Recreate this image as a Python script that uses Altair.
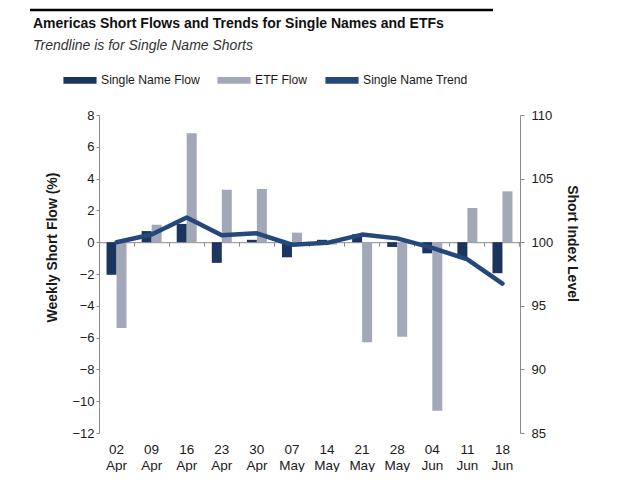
import altair as alt
import pandas as pd

dates = ["02 Apr", "09 Apr", "16 Apr", "23 Apr", "30 Apr", "07 May",
         "14 May", "21 May", "28 May", "04 Jun", "11 Jun", "18 Jun"]
single_name_flow = [-2.05, 0.7, 1.15, -1.3, 0.15, -0.95, 0.15, 0.5, -0.3, -0.7, -0.95, -1.95]
etf_flow = [-5.4, 1.1, 6.85, 3.3, 3.35, 0.6, -0.15, -6.3, -5.95, -10.6, 2.15, 3.2]
single_name_trend = [100.0, 100.6, 101.95, 100.55, 100.7, 99.8, 99.95, 100.6, 100.3, 99.55, 98.65, 96.75]

series_names = ["Single Name Flow", "ETF Flow", "Single Name Trend"]
series_colors = ["#1c355e", "#a3a8b8", "#24487a"]
left_ticks = [-12, -10, -8, -6, -4, -2, 0, 2, 4, 6, 8]
right_ticks = [85, 90, 95, 100, 105, 110]

bars_df = pd.DataFrame({
    "date": dates * 2,
    "series": [series_names[0]] * len(dates) + [series_names[1]] * len(dates),
    "value": single_name_flow + etf_flow,
})
trend_df = pd.DataFrame({"date": dates, "trend": single_name_trend,
                         "series": [series_names[2]] * len(dates)})

W, H = 421, 318
FONT = "Liberation Sans"
AXIS_GRAY = "#8a8a8a"
TEXT = "#1a1a1a"

color = alt.Color(
    "series:N",
    scale=alt.Scale(domain=series_names, range=series_colors),
    legend=alt.Legend(
        title=None, orient="none", legendX=-36, legendY=-52,
        direction="horizontal", symbolType="M-1,-0.2H1V0.2H-1Z",
        symbolSize=1100, symbolStrokeWidth=0, symbolOpacity=1,
        labelFont=FONT, labelFontSize=12.2, labelColor=TEXT,
        labelOffset=4, columnPadding=17, padding=0,
    ),
)

xscale = alt.Scale(paddingInner=0.43, paddingOuter=0.215)

bar_layer = alt.Chart(bars_df).mark_bar().encode(
    x=alt.X("date:N", sort=dates, scale=xscale,
            axis=alt.Axis(orient="bottom", title=None, domain=False, ticks=False,
                          labelAngle=0, labelExpr="split(datum.label, ' ')",
                          labelFont=FONT, labelFontSize=13.5, labelColor=TEXT,
                          labelPadding=9, labelLineHeight=16)),
    xOffset=alt.XOffset("series:N", sort=series_names[:2]),
    y=alt.Y("value:Q", scale=alt.Scale(domain=[-12, 8], nice=False, zero=False),
            axis=alt.Axis(orient="left", values=left_ticks, grid=False,
                          title="Weekly Short Flow (%)", titleFont=FONT,
                          titleFontSize=14, titleFontWeight="bold", titleColor=TEXT,
                          titleX=-40, titleY=132,
                          labelFont=FONT, labelFontSize=13, labelColor=TEXT,
                          labelPadding=2, tickSize=3, tickColor=AXIS_GRAY,
                          domainColor=AXIS_GRAY)),
    color=color,
)

line_layer = alt.Chart(trend_df).mark_line(
    strokeWidth=4.5, strokeCap="round", strokeJoin="round"
).encode(
    x=alt.X("date:N", sort=dates, scale=xscale,
            axis=alt.Axis(orient="bottom", title=None, labels=False, ticks=True,
                          tickSize=4, tickColor=AXIS_GRAY, domain=True,
                          domainColor=AXIS_GRAY, bandPosition=1.377,
                          offset=-(H * 12 / 20), grid=False)),
    y=alt.Y("trend:Q", scale=alt.Scale(domain=[85, 110], nice=False, zero=False),
            axis=alt.Axis(orient="right", values=right_ticks, grid=False,
                          title="Short Index Level", titleFont=FONT,
                          titleFontSize=14, titleFontWeight="bold", titleColor=TEXT,
                          titlePadding=12, titleY=128,
                          labelFont=FONT, labelFontSize=13, labelColor=TEXT,
                          labelPadding=7, tickSize=4, tickColor=AXIS_GRAY,
                          domainColor=AXIS_GRAY)),
    color=color,
)

header_rule = alt.Chart(pd.DataFrame({"k": [0]})).mark_rule(
    color="#000000", strokeWidth=2.5, clip=False
).encode(x=alt.value(-69), x2=alt.value(394), y=alt.value(-105))

chart = alt.layer(bar_layer, line_layer, header_rule).resolve_scale(
    y="independent"
).resolve_axis(x="independent", y="independent").properties(
    width=W, height=H,
    autosize=alt.AutoSizeParams(type="none"),
    padding={"left": 91, "top": 107, "right": 90, "bottom": 39},
    title=alt.TitleParams(
        text="Americas Short Flows and Trends for Single Names and ETFs",
        subtitle="Trendline is for Single Name Shorts",
        anchor="start", frame="group", dx=-66, offset=-44,
        font=FONT, fontSize=14, fontWeight="bold", color="#111111",
        subtitleFont=FONT, subtitleFontSize=14, subtitleFontStyle="italic",
        subtitleColor="#333333", subtitlePadding=8,
    ),
).configure_view(stroke=None)

chart.save("out.html", embed_options={"renderer": "svg", "actions": False})
